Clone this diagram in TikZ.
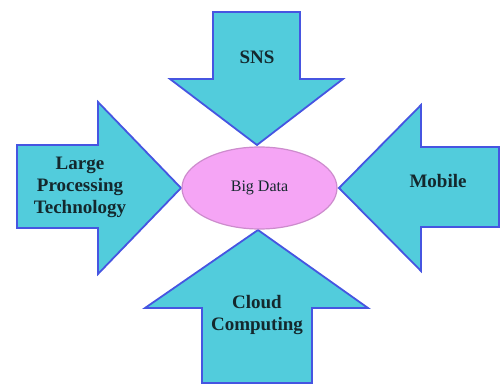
\documentclass[tikz,border=0pt]{standalone}
\usepackage{fontspec}
\setmainfont{Liberation Serif}
\usetikzlibrary{shapes.geometric}
\definecolor{arrfill}{RGB}{82,204,220}
\definecolor{arrline}{RGB}{70,85,225}
\definecolor{ellfill}{RGB}{245,165,245}
\definecolor{ellline}{RGB}{205,140,205}
\definecolor{txt}{RGB}{20,40,45}
\begin{document}
\begin{tikzpicture}[x=1pt,y=-1pt,
  arrowshape/.style={fill=arrfill,draw=arrline,line width=1.8pt,line join=miter},
  lbl/.style={font=\fontsize{19}{22}\selectfont\bfseries,align=center,text=txt,inner sep=0pt},
  ell/.style={ellipse,fill=ellfill,draw=ellline,line width=1.2pt,minimum width=155pt,minimum height=82pt,inner sep=0pt,
    font=\fontsize{16}{18}\selectfont,text=txt}]
\useasboundingbox (0,0) rectangle (501,385);
% top arrow (SNS)
\draw[arrowshape] (213,12) -- (300,12) -- (300,79) -- (343,79) -- (257,145) -- (170,79) -- (213,79) -- cycle;
% left arrow (Large Processing Technology)
\draw[arrowshape] (17,145) -- (98,145) -- (98,102) -- (181,188) -- (98,274) -- (98,228) -- (17,228) -- cycle;
% right arrow (Mobile)
\draw[arrowshape] (499,147) -- (421,147) -- (421,105) -- (339,188) -- (421,271) -- (421,227) -- (499,227) -- cycle;
% bottom arrow (Cloud Computing)
\draw[arrowshape] (202,383) -- (312,383) -- (312,308) -- (368,308) -- (258,230) -- (145,308) -- (202,308) -- cycle;
% centre ellipse
\node[ell] (bd) at (259.5,188) {Big Data};
% labels
\node[lbl] (sns) at (257,57) {SNS};
\node[lbl] (lpt) at (80,187) {Large\\Processing\\Technology};
\node[lbl] (mob) at (438,181) {Mobile};
\node[lbl] (cc) at (257,315) {Cloud\\Computing};
\end{tikzpicture}
\end{document}
